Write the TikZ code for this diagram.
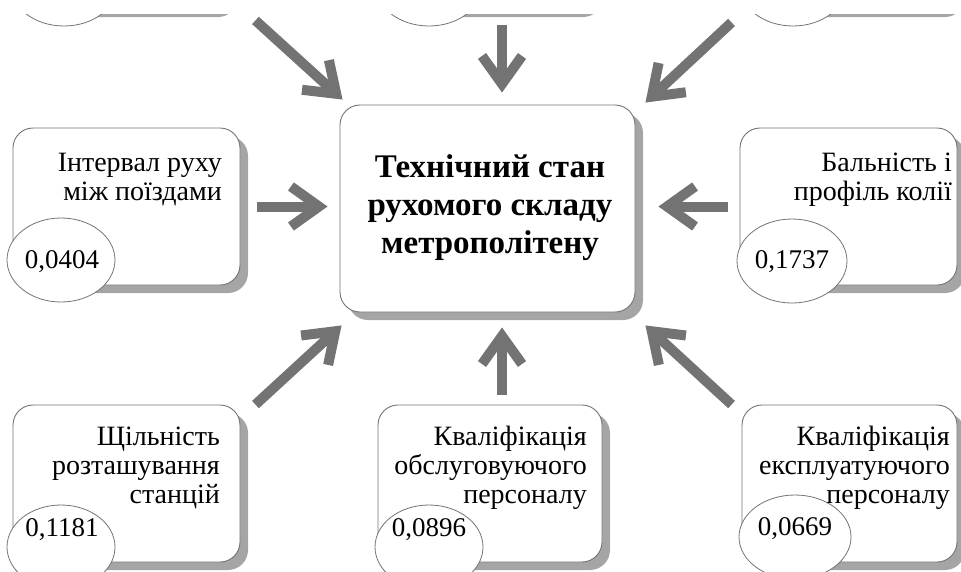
\documentclass[tikz,border=0pt]{standalone}
\usepackage{fontspec}
\setmainfont{Liberation Serif}
\usetikzlibrary{arrows.meta,shapes.geometric,shadows}
\definecolor{arrgray}{RGB}{115,115,115}
\definecolor{shgray}{RGB}{165,165,165}
\definecolor{edgegray}{RGB}{115,115,115}
\begin{document}
\begin{tikzpicture}[x=1pt,y=-1pt,
  box/.style={draw=edgegray, line width=0.9pt, fill=white, rounded corners=20pt,
    minimum height=157pt, inner sep=0pt,
    drop shadow={shadow xshift=8pt, shadow yshift=-8pt, fill=shgray, opacity=1}},
  val/.style={ellipse, draw=edgegray, line width=0.8pt, fill=white,
    minimum width=108pt, minimum height=84pt, inner sep=0pt},
  num/.style={inner sep=0pt, font=\fontsize{27}{30}\selectfont},
  lbl/.style={anchor=north east, inner sep=0pt, align=right,
    font=\fontsize{28}{29}\selectfont},
  arr/.style={draw=arrgray, line width=10pt, -{Straight Barb[length=28pt, width=40pt]}},
]
\useasboundingbox (0,0) rectangle (961,571);
\clip (0,14) rectangle (961,571);
% boxes
\node[box, minimum width=295pt, minimum height=207pt] (c) at (487.5,208.5) {};
\node[box, minimum width=227pt] (ml) at (126.5,206.5) {};
\node[box, minimum width=217pt] (mr) at (848.5,206.5) {};
\node[box, minimum width=227pt] (bl) at (126.5,483.5) {};
\node[box, minimum width=224pt] (bc) at (490,483.5) {};
\node[box, minimum width=215pt] (br) at (849.5,483.5) {};
\node[box, minimum width=222pt] (tl) at (119,-69.5) {};
\node[box, minimum width=217pt] (tc) at (486.5,-69.5) {};
\node[box, minimum width=216pt] (tr) at (849,-69.5) {};
% value ellipses
\node[val] (vml) at (61,260) {};
\node[val, minimum width=110pt] (vmr) at (792,261) {};
\node[val] (vbl) at (61,547) {};
\node[val] (vbc) at (429,547) {};
\node[val, minimum width=112pt] (vbr) at (795,537) {};
\node[val] (vtl) at (64,-16) {};
\node[val] (vtc) at (429,-16) {};
\node[val] (vtr) at (793,-16) {};
% values
\node[num] (nml) at (62,262) {0,0404};
\node[num] (nmr) at (792,262) {0,1737};
\node[num] (nbl) at (62,530) {0,1181};
\node[num] (nbc) at (429,530) {0,0896};
\node[num] (nbr) at (795,529) {0,0669};
% labels
\node[anchor=north, inner sep=0pt, align=center,
  font=\fontsize{33}{38}\selectfont\bfseries] (tc0) at (490,150.4)
  {\strut Технічний стан\\рухомого складу\\метрополітену};
\node[lbl] (tml) at (222,150.7) {\strut Інтервал руху\\між поїздами};
\node[lbl] (tmr) at (952,150.7) {\strut Бальність і\\профіль колії};
\node[lbl] (tbl) at (220,424.7) {\strut Щільність\\розташування\\станцій};
\node[lbl] (tbc) at (587,424.7) {\strut Кваліфікація\\обслуговуючого\\персоналу};
\node[lbl] (tbr) at (950,424.7) {\strut Кваліфікація\\експлуатуючого\\персоналу};
% arrows
\draw[arr, shorten <=17pt, shorten >=12pt] (ml.east) -- (ml.east -| c.west);
\draw[arr, shorten <=12pt, shorten >=23pt] (mr.west) -- (mr.west -| c.east);
\draw[arr] ([xshift=12pt,yshift=10pt]bc.north) -- ([xshift=14.5pt,yshift=-15pt]c.south);
\draw[arr] ([xshift=15.5pt,yshift=-16pt]tc.south) -- ([xshift=14.5pt,yshift=12pt]c.north);
\draw[arr] ([xshift=15pt]bl.north east) -- ([xshift=2pt,yshift=-13pt]c.south west);
\draw[arr] ([xshift=-10pt]br.north west) -- ([xshift=10pt,yshift=-13pt]c.south east);
\draw[arr] ([xshift=25pt,yshift=-11pt]tl.south east) -- ([xshift=3pt,yshift=5pt]c.north west);
\draw[arr] ([xshift=-9pt,yshift=-13pt]tr.south west) -- ([xshift=10pt,yshift=2pt]c.north east);
\end{tikzpicture}
\end{document}
